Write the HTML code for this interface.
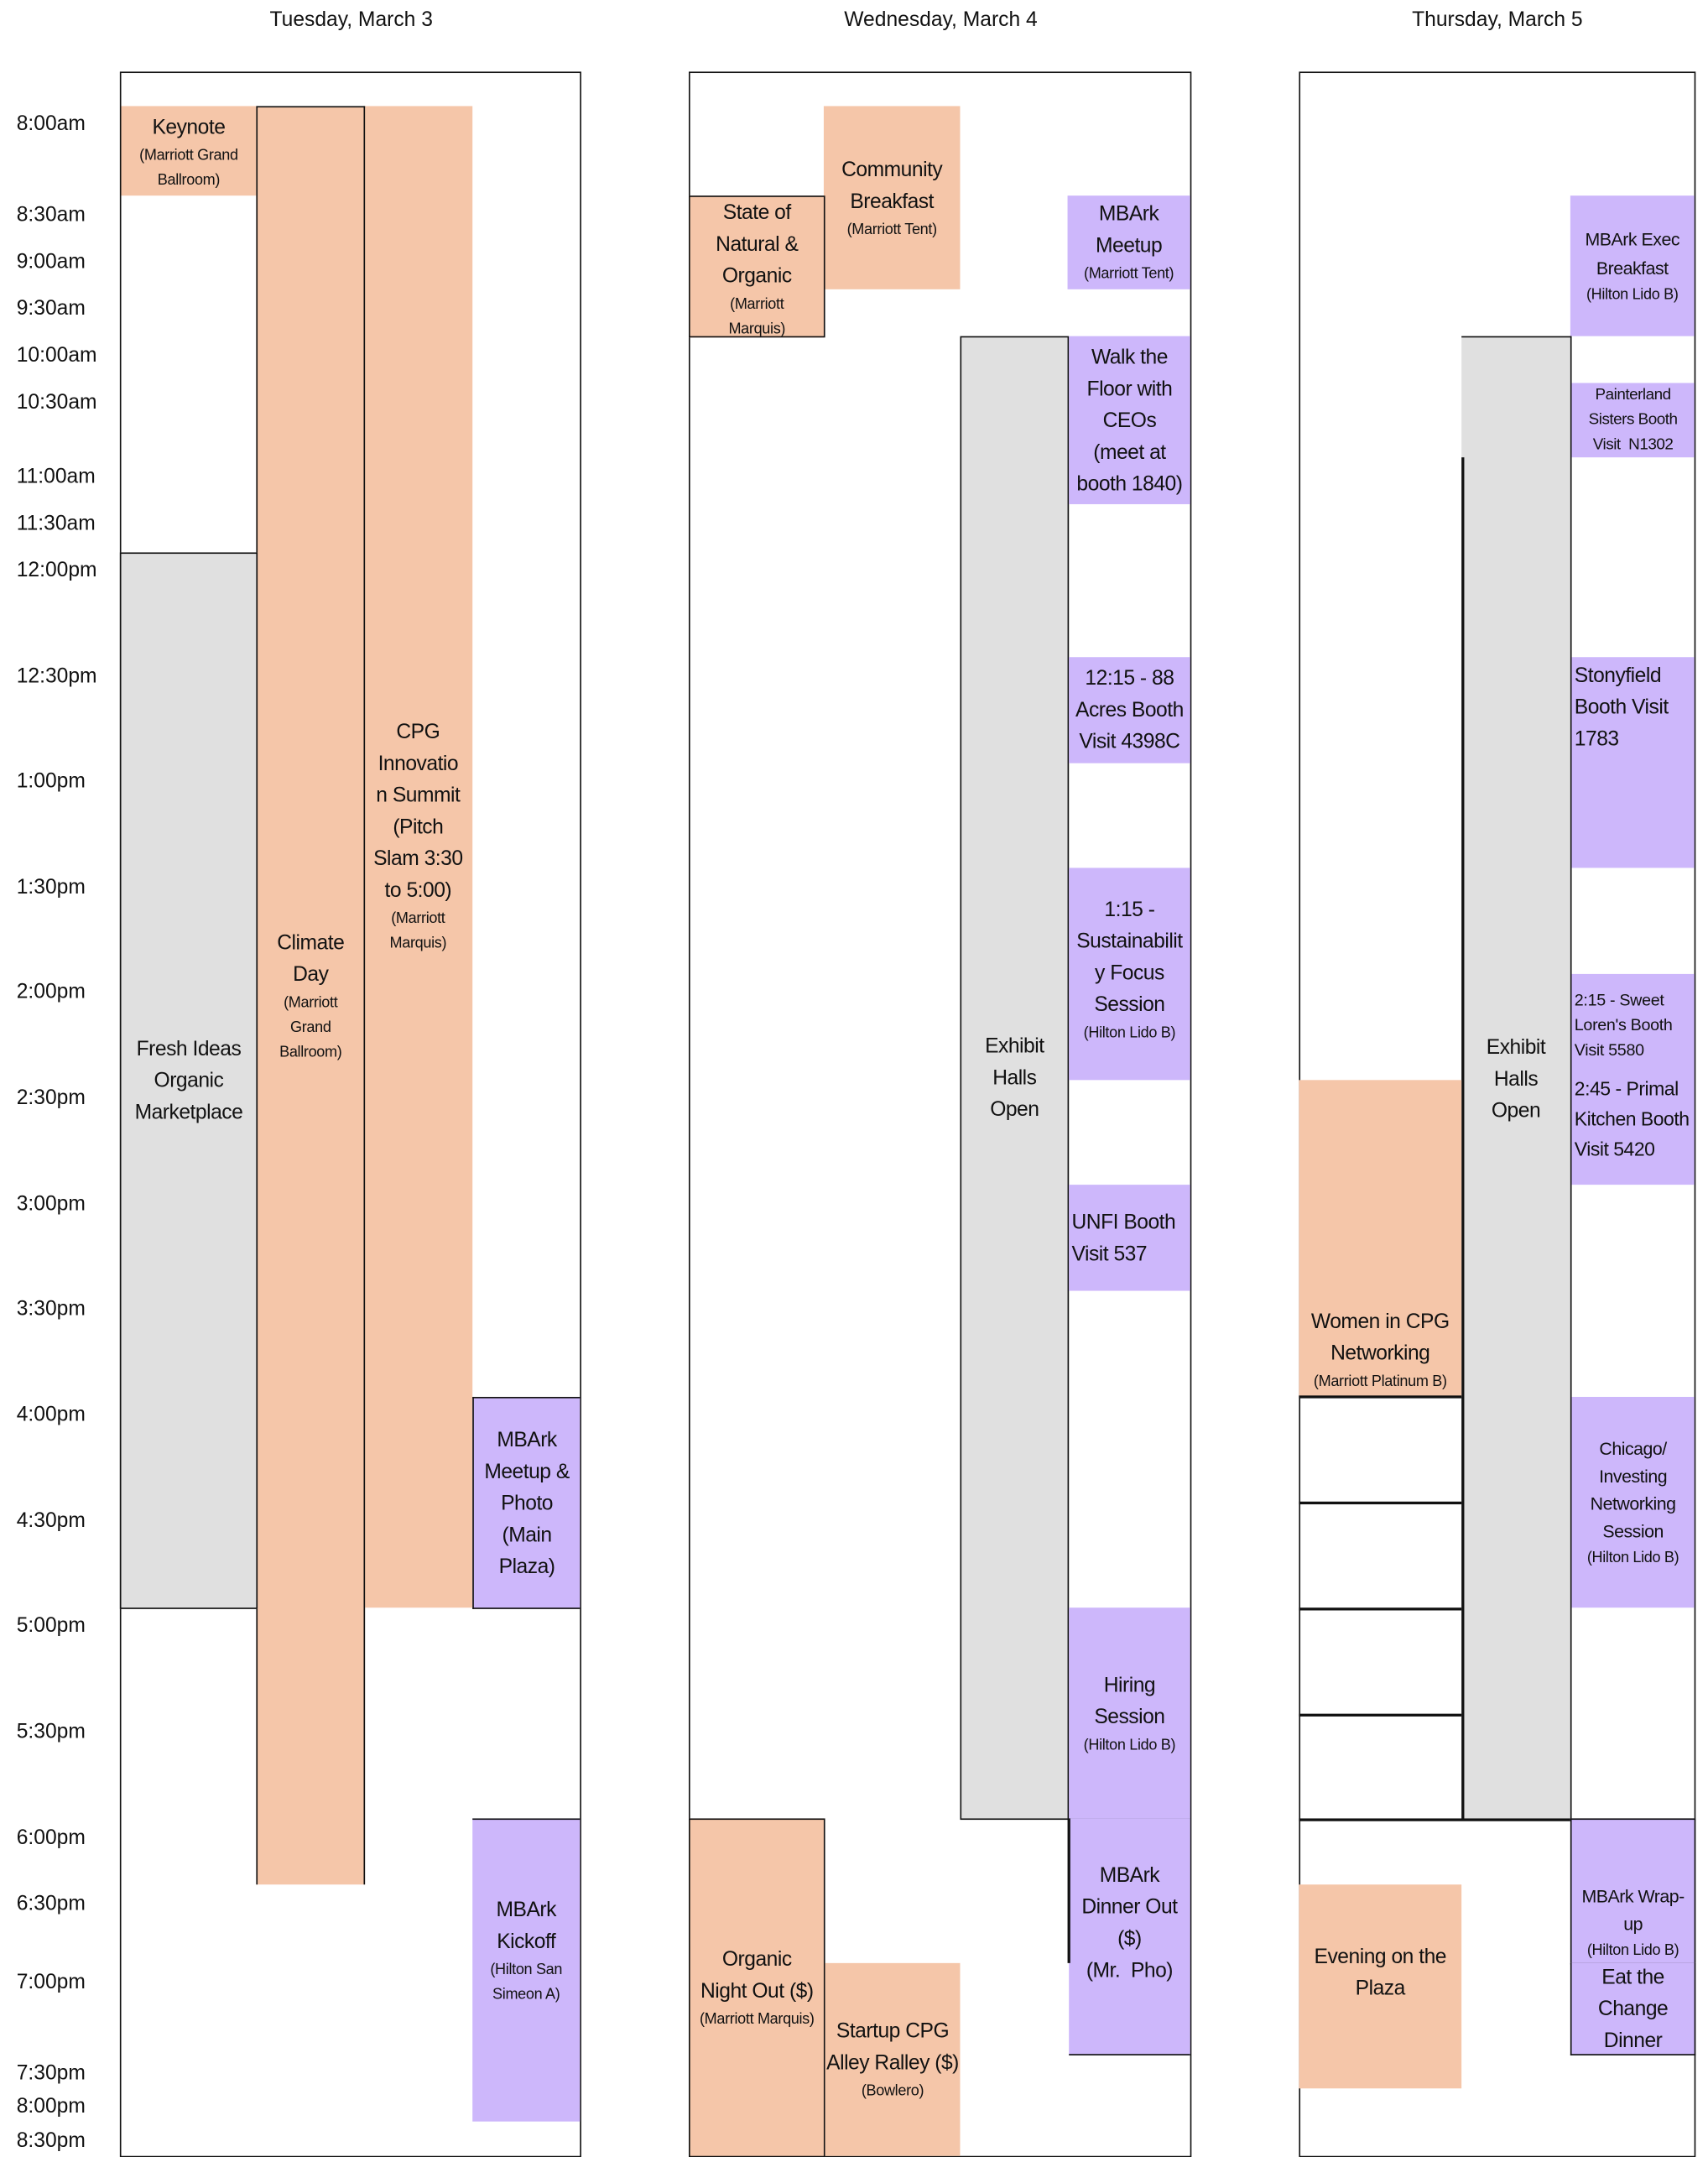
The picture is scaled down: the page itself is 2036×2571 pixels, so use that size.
<!DOCTYPE html>
<html><head><meta charset="utf-8">
<style>
html,body{margin:0;padding:0;background:#fff;}
body{width:2036px;height:2560px;overflow:hidden;position:relative;}
#s{position:absolute;left:0;top:0;width:1240px;height:1559px;transform:scale(1.642);transform-origin:0 0;font-family:"Liberation Sans",sans-serif;color:#111;}
.b{position:absolute;box-sizing:border-box;display:flex;flex-direction:column;align-items:center;justify-content:center;text-align:center;font-size:15px;line-height:23px;letter-spacing:-0.3px;overflow:hidden;}
.p{background:#f5c6a9;}
.u{background:#cdb7fb;}
.g{background:#e0e0e0;}
.s{font-size:11px;line-height:18px;letter-spacing:-0.2px;}
.l{position:absolute;background:#111;}
.t{position:absolute;left:12px;font-size:15px;transform:translateY(-50%);}
.h{position:absolute;top:6px;font-size:15px;transform:translateX(-50%);white-space:nowrap;}
.frame{position:absolute;border:1.6px solid #111;box-sizing:border-box;}
.bd{border:1.6px solid #111;}
</style></head><body><div id="s">
<div class="h" style="left:255px">Tuesday, March 3</div>
<div class="h" style="left:683px">Wednesday, March 4</div>
<div class="h" style="left:1087px">Thursday, March 5</div>

<div class="t" style="top:90px">8:00am</div>
<div class="t" style="top:156px">8:30am</div>
<div class="t" style="top:190px">9:00am</div>
<div class="t" style="top:224px">9:30am</div>
<div class="t" style="top:258px">10:00am</div>
<div class="t" style="top:292px">10:30am</div>
<div class="t" style="top:346px">11:00am</div>
<div class="t" style="top:380px">11:30am</div>
<div class="t" style="top:414px">12:00pm</div>
<div class="t" style="top:491px">12:30pm</div>
<div class="t" style="top:567px">1:00pm</div>
<div class="t" style="top:644px">1:30pm</div>
<div class="t" style="top:720px">2:00pm</div>
<div class="t" style="top:797px">2:30pm</div>
<div class="t" style="top:874px">3:00pm</div>
<div class="t" style="top:950px">3:30pm</div>
<div class="t" style="top:1027px">4:00pm</div>
<div class="t" style="top:1104px">4:30pm</div>
<div class="t" style="top:1180px">5:00pm</div>
<div class="t" style="top:1257px">5:30pm</div>
<div class="t" style="top:1334px">6:00pm</div>
<div class="t" style="top:1382px">6:30pm</div>
<div class="t" style="top:1439px">7:00pm</div>
<div class="t" style="top:1505px">7:30pm</div>
<div class="t" style="top:1529px">8:00pm</div>
<div class="t" style="top:1554px">8:30pm</div>

<!-- Tuesday -->
<div class="frame" style="left:87px;top:52px;width:335px;height:1514px"></div>
<div class="b p" style="left:88px;top:77px;width:98px;height:65px;justify-content:flex-start;padding-top:4px">Keynote<span class="s">(Marriott Grand<br>Ballroom)</span></div>
<div class="b p" style="left:264px;top:77px;width:79px;height:1090px;padding-bottom:30px">CPG<br>Innovatio<br>n Summit<br>(Pitch<br>Slam 3:30<br>to 5:00)<span class="s">(Marriott<br>Marquis)</span></div>
<div class="b p" style="left:186px;top:77px;width:79px;height:1291px;border:1.6px solid #111;border-bottom:none">Climate<br>Day<span class="s">(Marriott<br>Grand<br>Ballroom)</span></div>
<div class="b g bd" style="left:87px;top:401px;width:100px;height:767px">Fresh Ideas<br>Organic<br>Marketplace</div>
<div class="b u" style="left:343px;top:1014px;width:78px;height:154px;border-top:1.6px solid #111;border-left:1.6px solid #111;border-bottom:1.6px solid #111">MBArk<br>Meetup &amp;<br>Photo<br>(Main<br>Plaza)</div>
<div class="b u" style="left:343px;top:1320px;width:78px;height:220px;border-top:1.6px solid #111;padding-bottom:30px">MBArk<br>Kickoff<span class="s">(Hilton San<br>Simeon A)</span></div>

<!-- Wednesday -->
<div class="frame" style="left:500px;top:52px;width:365px;height:1514px"></div>
<div class="b p" style="left:598px;top:77px;width:99px;height:133px">Community<br>Breakfast<span class="s">(Marriott Tent)</span></div>
<div class="b p bd" style="left:500px;top:142px;width:99px;height:103px;justify-content:flex-start;padding-top:0">State of<br>Natural &amp;<br>Organic<span class="s">(Marriott<br>Marquis)</span></div>
<div class="b u" style="left:775px;top:142px;width:89px;height:68px">MBArk<br>Meetup<span class="s">(Marriott Tent)</span></div>
<div class="b g bd" style="left:697px;top:244px;width:79px;height:1077px">Exhibit<br>Halls<br>Open</div>
<div class="b u" style="left:776px;top:244px;width:88px;height:122px">Walk the<br>Floor with<br>CEOs<br>(meet at<br>booth 1840)</div>
<div class="b u" style="left:776px;top:477px;width:88px;height:77px">12:15 - 88<br>Acres Booth<br>Visit 4398C</div>
<div class="b u" style="left:776px;top:630px;width:88px;height:154px;padding-bottom:6px">1:15 -<br>Sustainabilit<br>y Focus<br>Session<span class="s">(Hilton Lido B)</span></div>
<div class="b u" style="left:776px;top:860px;width:88px;height:77px;align-items:flex-start;text-align:left;padding-left:2px">UNFI Booth<br>Visit 537</div>
<div class="b u" style="left:776px;top:1167px;width:88px;height:154px;border-bottom:1.6px solid #111">Hiring<br>Session<span class="s">(Hilton Lido B)</span></div>
<div class="b u" style="left:776px;top:1320px;width:88px;height:172px;border-bottom:1.6px solid #111;padding-bottom:20px">MBArk<br>Dinner Out<br>($)<br>(Mr.&nbsp; Pho)</div>
<div class="l" style="left:775px;top:1320px;width:1.6px;height:105px"></div>
<div class="b p bd" style="left:500px;top:1320px;width:99px;height:246px">Organic<br>Night Out ($)<span class="s">(Marriott Marquis)</span></div>
<div class="b p" style="left:599px;top:1425px;width:98px;height:140px">Startup CPG<br>Alley Ralley ($)<span class="s">(Bowlero)</span></div>

<!-- Thursday -->
<div class="frame" style="left:943px;top:52px;width:288px;height:1514px"></div>
<div class="b u" style="left:1140px;top:142px;width:90px;height:102px;font-size:13px;line-height:21px">MBArk Exec<br>Breakfast<span class="s">(Hilton Lido B)</span></div>
<div class="b g" style="left:1061px;top:244px;width:80px;height:1077px;border-top:1.6px solid #111;border-right:1.6px solid #111">Exhibit<br>Halls<br>Open</div>
<div class="l" style="left:1061px;top:332px;width:1.6px;height:989px"></div>
<div class="b u" style="left:1141px;top:278px;width:89px;height:54px;font-size:11.5px;line-height:18px">Painterland<br>Sisters Booth<br>Visit&nbsp; N1302</div>
<div class="b u" style="left:1141px;top:477px;width:89px;height:153px;justify-content:flex-start;align-items:flex-start;text-align:left;padding-left:2px;padding-top:2px">Stonyfield<br>Booth Visit<br>1783</div>
<div class="b u" style="left:1141px;top:707px;width:89px;height:153px;justify-content:flex-start;align-items:flex-start;text-align:left;padding-left:2px;padding-top:10px"><span class="s" style="font-size:12px">2:15 - Sweet<br>Loren's Booth<br>Visit 5580</span><span style="margin-top:8px;line-height:22px;font-size:14px">2:45 - Primal<br>Kitchen Booth<br>Visit 5420</span></div>
<div class="b p" style="left:943px;top:784px;width:118px;height:230px;justify-content:flex-end;padding-bottom:2px">Women in CPG<br>Networking<span class="s">(Marriott Platinum B)</span></div>
<div class="l" style="left:943px;top:1013px;width:118px;height:1.6px"></div>
<div class="l" style="left:943px;top:1090px;width:118px;height:1.6px"></div>
<div class="l" style="left:943px;top:1167px;width:118px;height:1.6px"></div>
<div class="l" style="left:943px;top:1244px;width:118px;height:1.6px"></div>
<div class="l" style="left:943px;top:1320px;width:288px;height:1.6px"></div>
<div class="b u" style="left:1141px;top:1014px;width:89px;height:153px;font-size:13px;line-height:20px">Chicago/<br>Investing<br>Networking<br>Session<span class="s">(Hilton Lido B)</span></div>
<div class="b u" style="left:1140px;top:1320px;width:91px;height:106px;border:1.6px solid #111;justify-content:flex-end;padding-bottom:0;font-size:13px;line-height:20px">MBArk Wrap-<br>up<span class="s">(Hilton Lido B)</span></div>
<div class="b u" style="left:1140px;top:1425px;width:91px;height:67px;border:1.6px solid #111;border-top:none">Eat the<br>Change<br>Dinner</div>
<div class="b p" style="left:943px;top:1368px;width:118px;height:148px;padding-bottom:20px">Evening on the<br>Plaza</div>
</div></body></html>
